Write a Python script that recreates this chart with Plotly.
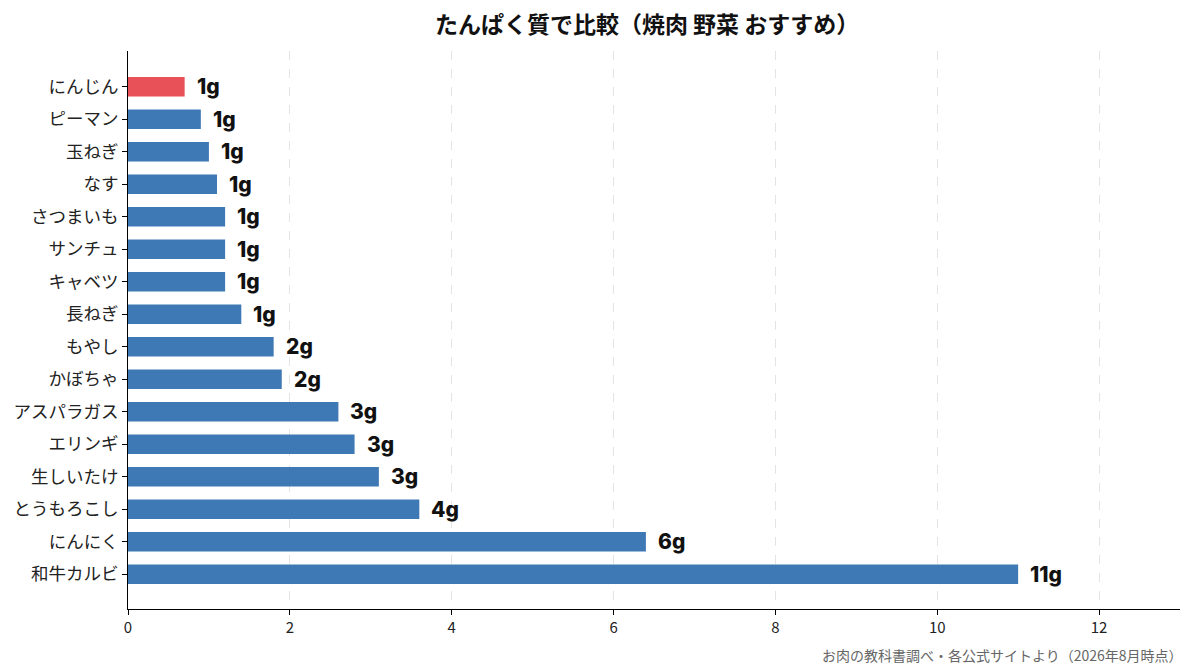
import plotly.graph_objects as go

categories = ["にんじん", "ピーマン", "玉ねぎ", "なす", "さつまいも", "サンチュ", "キャベツ", "長ねぎ",
              "もやし", "かぼちゃ", "アスパラガス", "エリンギ", "生しいたけ", "とうもろこし", "にんにく", "和牛カルビ"]
protein = [0.7, 0.9, 1.0, 1.1, 1.2, 1.2, 1.2, 1.4, 1.8, 1.9, 2.6, 2.8, 3.1, 3.6, 6.4, 11.0]
value_labels = ["1g", "1g", "1g", "1g", "1g", "1g", "1g", "1g", "2g", "2g", "3g", "3g", "3g", "4g", "6g", "11g"]
highlight = "にんじん"
x_ticks = [0, 2, 4, 6, 8, 10, 12]

FONT = "Noto Sans CJK JP"
LABEL_FONT = "Inter, Noto Sans CJK JP"
BLUE = "#3f79b5"
RED = "#e85157"

colors = [RED if c == highlight else BLUE for c in categories]

fig = go.Figure()
fig.add_trace(go.Bar(
    x=protein, y=categories, orientation="h",
    marker=dict(color=colors, line=dict(width=0)),
    width=0.6, hoverinfo="skip",
))

for c, v, lab in zip(categories, protein, value_labels):
    fig.add_annotation(x=v, y=c, text=lab, showarrow=False,
                       xanchor="left", yanchor="middle", xshift=10,
                       font=dict(family=LABEL_FONT, size=21, color="#111111", weight=800))

n = len(categories)
fig.update_layout(
    width=1177, height=656,
    margin=dict(l=120, r=5, t=43, b=55),
    plot_bgcolor="white", paper_bgcolor="white",
    showlegend=False,
    title=dict(text="<b>たんぱく質で比較（焼肉 野菜 おすすめ）</b>", x=0.543, xanchor="center",
               xref="container", yref="container", y=0.974, yanchor="middle",
               font=dict(family=FONT, size=23, color="#111111")),
    xaxis=dict(range=[0, 13], tickvals=x_ticks, showgrid=True, gridcolor="#e4e4e4", griddash="dash",
               gridwidth=1, zeroline=False, showline=True, linecolor="black", linewidth=1.2,
               ticks="outside", ticklen=5, tickcolor="black",
               tickfont=dict(family=FONT, size=15, color="#222222")),
    yaxis=dict(categoryorder="array", categoryarray=categories[::-1],
               range=[-1.07, n - 1 + 1.1], showgrid=False, zeroline=False,
               showline=True, linecolor="black", linewidth=1.2,
               ticks="outside", ticklen=5, tickcolor="black",
               tickfont=dict(family=FONT, size=17.5, color="#222222")),
)

fig.add_annotation(text="お肉の教科書調べ・各公式サイトより（2026年8月時点）", xref="paper", yref="paper",
                   x=1.0, y=-0.0824, xanchor="right", yanchor="middle", xshift=5, showarrow=False,
                   font=dict(family=FONT, size=14, color="#666666"))

fig.write_html("out.html")
